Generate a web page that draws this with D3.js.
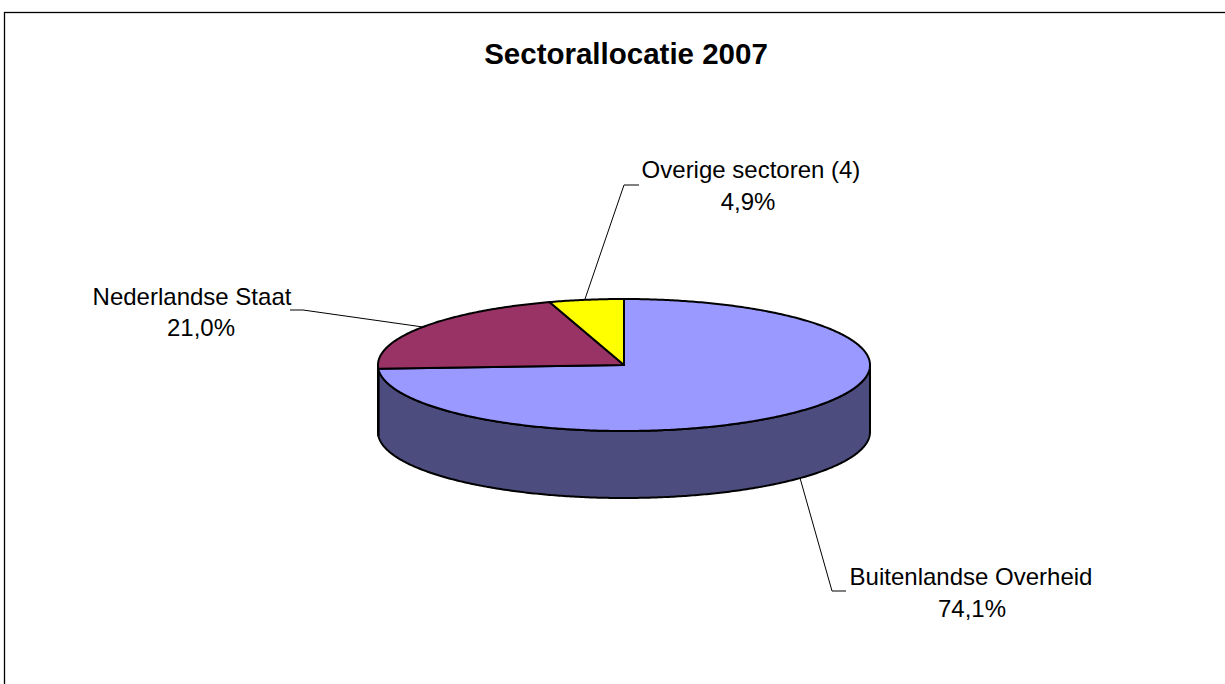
<!DOCTYPE html>
<html>
<head>
<meta charset="utf-8">
<script src="https://cdn.jsdelivr.net/npm/d3@7"></script>
<style>
  html, body { margin: 0; padding: 0; background: #fff; }
  svg { display: block; }
  text { font-family: "Liberation Sans", Arial, sans-serif; fill: #000; }
</style>
</head>
<body>
<svg id="chart" width="1225" height="684"></svg>
<script>
// ---- data ----
const categories = ["Buitenlandse Overheid", "Nederlandse Staat", "Overige sectoren (4)"];
const values = [74.1, 21.0, 4.9];
const valueLabels = ["74,1%", "21,0%", "4,9%"];
const title = "Sectorallocatie 2007";

// ---- styling / layout ----
const topColors = ["#9999FF", "#993366", "#FFFF00"];
const sideColors = ["#4C4C7F", "#4D1A33", "#808000"];
const cx = 624, cy = 365, rx = 246, ry = 66, depth = 67;
// label layout: [line1 center x, line1 baseline, line2 center x, line2 baseline]
const labelPos = [
  [971, 585, 972, 617],
  [192, 305, 201, 336],
  [751, 178, 748, 210]
];
// leader line points
const leaders = [
  [[800, 478], [832, 591], [846, 591]],
  [[423, 327], [303, 310], [290, 310]],
  [[585, 299], [624, 185], [639, 185]]
];

const svg = d3.select("#chart");

// border
svg.append("rect")
  .attr("x", 4.5).attr("y", 12.5)
  .attr("width", 1300).attr("height", 800)
  .attr("fill", "none").attr("stroke", "#000").attr("stroke-width", 1.3);

svg.append("text")
  .attr("x", 626).attr("y", 64)
  .attr("text-anchor", "middle")
  .style("font-weight", "bold").style("font-size", "29.5px")
  .text(title);

const pie = d3.pie().sort(null).startAngle(0).endAngle(2 * Math.PI);
const arcs = pie(values);

const px = a => cx + rx * Math.sin(a);
const py = a => cy - ry * Math.cos(a);

function arcPoints(a0, a1, dy) {
  const n = Math.max(2, Math.ceil((a1 - a0) / 0.01));
  const pts = [];
  for (let i = 0; i <= n; i++) {
    const a = a0 + (a1 - a0) * i / n;
    pts.push([px(a), py(a) + dy]);
  }
  return pts;
}

// sides (front half: angles between PI/2 and 3PI/2)
const g = svg.append("g");
arcs.forEach((d, i) => {
  const a0 = Math.max(d.startAngle, Math.PI / 2);
  const a1 = Math.min(d.endAngle, 3 * Math.PI / 2);
  if (a1 <= a0) return;
  const topPts = arcPoints(a0, a1, 0);
  const botPts = arcPoints(a0, a1, depth).reverse();
  const pts = topPts.concat(botPts);
  g.append("path")
    .attr("d", "M" + pts.map(p => p.join(",")).join("L") + "Z")
    .attr("fill", sideColors[i])
    .attr("stroke", "#000").attr("stroke-width", 2)
    .attr("stroke-linejoin", "round");
});

// top slices
arcs.forEach((d, i) => {
  const pts = [[cx, cy]].concat(arcPoints(d.startAngle, d.endAngle, 0));
  g.append("path")
    .attr("d", "M" + pts.map(p => p.join(",")).join("L") + "Z")
    .attr("fill", topColors[i])
    .attr("stroke", "#000").attr("stroke-width", 2)
    .attr("stroke-linejoin", "round");
});

// leader lines
leaders.forEach(l => {
  svg.append("path")
    .attr("d", d3.line()(l))
    .attr("fill", "none").attr("stroke", "#000").attr("stroke-width", 1);
});

// labels
categories.forEach((c, i) => {
  const p = labelPos[i];
  svg.append("text").attr("x", p[0]).attr("y", p[1])
    .attr("text-anchor", "middle").style("font-size", "24px").text(c);
  svg.append("text").attr("x", p[2]).attr("y", p[3])
    .attr("text-anchor", "middle").style("font-size", "24px").text(valueLabels[i]);
});
</script>
</body>
</html>
